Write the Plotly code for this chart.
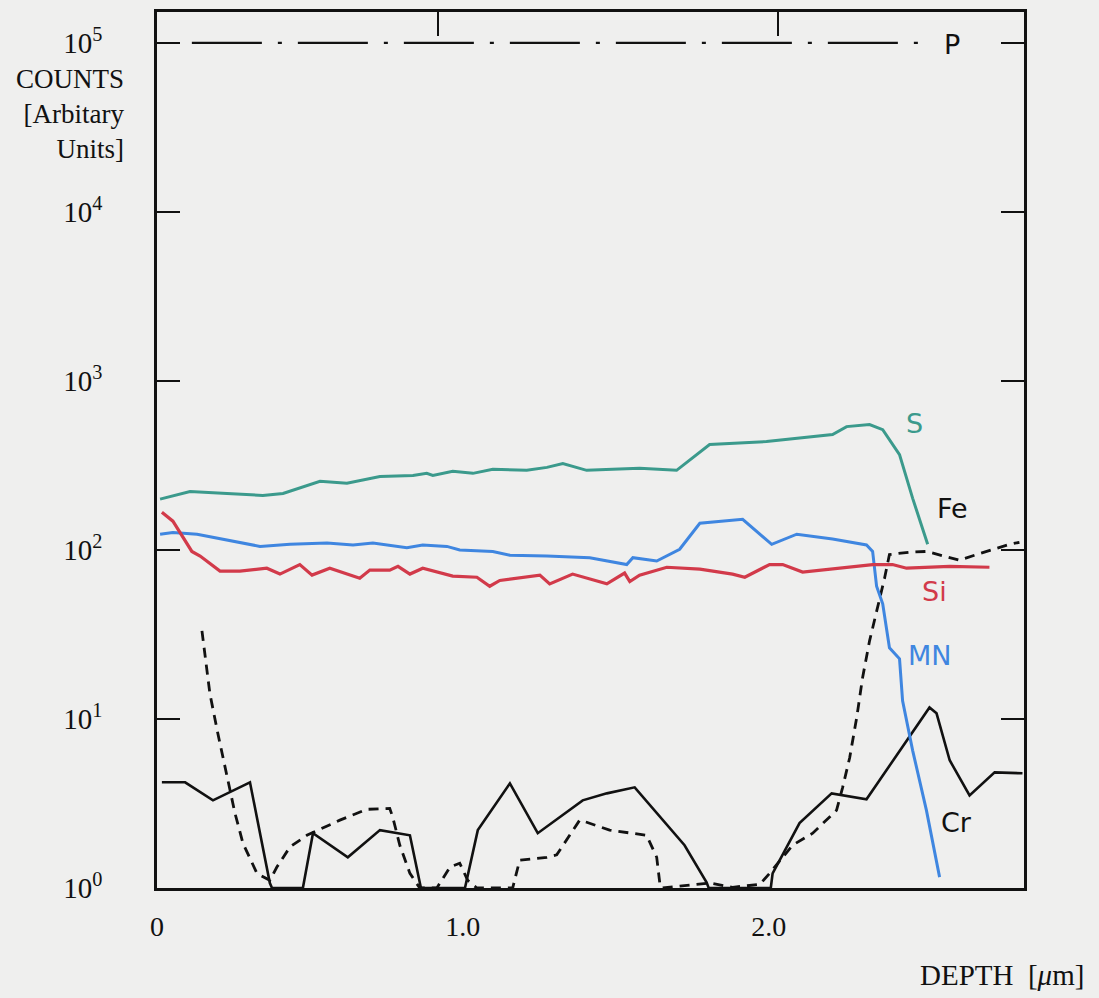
import plotly.graph_objects as go

# ---------------- data (depth in µm, counts) ----------------
s_depth = [0.010, 0.108, 0.229, 0.346, 0.412, 0.510, 0.533, 0.621, 0.729, 0.837, 0.882, 0.902,
           0.967, 1.033, 1.098, 1.209, 1.275, 1.327, 1.405, 1.490, 1.578, 1.699, 1.807, 1.993,
           2.209, 2.255, 2.330, 2.373, 2.428, 2.471, 2.520]
s_counts = [200, 222, 216, 210, 216, 248, 255, 248, 272, 276, 284, 276,
            292, 284, 300, 296, 308, 325, 296, 300, 304, 296, 421, 438,
            482, 537, 552, 515, 367, 202, 108]

mn_depth = [0.010, 0.052, 0.131, 0.239, 0.337, 0.435, 0.556, 0.641, 0.706, 0.817, 0.869, 0.948,
            0.990, 1.098, 1.154, 1.275, 1.415, 1.536, 1.556, 1.634, 1.709, 1.775, 1.915, 2.010,
            2.092, 2.209, 2.320, 2.340, 2.353, 2.373, 2.395, 2.428, 2.438, 2.471, 2.516, 2.559]
mn_counts = [124, 127, 124, 114, 105, 108, 110, 107, 110, 103, 107, 105,
             100, 98, 93, 92, 90, 82, 90, 86, 101, 144, 152, 108,
             124, 116, 107, 98, 61, 48, 26.4, 22.7, 12.8, 6.5, 2.88, 1.16]

si_depth = [0.016, 0.052, 0.114, 0.141, 0.206, 0.271, 0.359, 0.402, 0.467, 0.507, 0.565, 0.663,
            0.696, 0.761, 0.788, 0.827, 0.869, 0.967, 1.046, 1.088, 1.121, 1.252, 1.284, 1.359,
            1.471, 1.529, 1.546, 1.578, 1.667, 1.775, 1.882, 1.922, 2.003, 2.046, 2.111, 2.209,
            2.340, 2.405, 2.451, 2.592, 2.722]
si_counts = [167, 148, 98, 92, 75, 75, 78, 72, 82, 71, 78, 68,
             76, 76, 80, 72, 78, 70, 69, 61, 66, 71, 63, 72,
             63, 73, 65, 71, 79, 77, 72, 69, 82, 82, 74, 77,
             82, 82, 78, 80, 79]

fe_depth = [0.147, 0.173, 0.199, 0.232, 0.255, 0.281, 0.327, 0.369, 0.392, 0.435, 0.490, 0.598,
            0.686, 0.761, 0.771, 0.794, 0.827, 0.859, 0.915, 0.958, 0.990, 1.016, 1.046, 1.163,
            1.186, 1.275, 1.307, 1.382, 1.405, 1.480, 1.601, 1.634, 1.644, 1.650, 1.807, 1.882,
            1.971, 2.003, 2.078, 2.144, 2.222, 2.242, 2.265, 2.288, 2.307, 2.330, 2.356, 2.379,
            2.395, 2.461, 2.516, 2.569, 2.624, 2.680, 2.788, 2.820]
fe_counts = [33.2, 14.1, 8.2, 4.3, 2.77, 1.84, 1.22, 1.11, 1.33, 1.75, 2.05, 2.52,
             2.92, 2.96, 2.62, 1.79, 1.22, 1.0, 1.0, 1.33, 1.40, 1.11, 1.0, 1.0,
             1.46, 1.52, 1.57, 2.52, 2.45, 2.20, 2.05, 1.52, 1.07, 1.0, 1.07, 1.01,
             1.05, 1.22, 1.79, 2.11, 2.88, 3.94, 5.9, 10.2, 17.5, 29, 45, 68,
             94, 97, 98, 92, 87, 94, 108, 111]

cr_depth = [0.016, 0.092, 0.183, 0.304, 0.369, 0.376, 0.477, 0.510, 0.624, 0.729, 0.827, 0.863,
            1.007, 1.049, 1.154, 1.245, 1.392, 1.471, 1.562, 1.725, 1.797, 1.804, 2.007, 2.013,
            2.101, 2.206, 2.320, 2.526, 2.549, 2.592, 2.657, 2.739, 2.830]
cr_counts = [4.22, 4.22, 3.30, 4.22, 1.07, 1.0, 1.0, 2.11, 1.52, 2.20, 2.05, 1.0,
             1.0, 2.20, 4.16, 2.11, 3.30, 3.63, 3.94, 1.79, 1.08, 1.0, 1.0, 1.22,
             2.42, 3.63, 3.35, 11.7, 10.8, 5.7, 3.53, 4.83, 4.77]

p_depth = [0.114, 2.49]
p_counts = [1e5, 1e5]

y_tickvals = [1, 10, 100, 1000, 10000, 100000]
y_ticktext = ["10<sup>0</sup>", "10<sup>1</sup>", "10<sup>2</sup>",
              "10<sup>3</sup>", "10<sup>4</sup>", "10<sup>5</sup>"]
x_tickvals = [0, 1, 2]
x_ticktext = ["0", "1.0", "2.0"]
top_tickvals = [0.92, 2.03]

# element labels: (text, depth, log10 count, colour)
labels = [("S", 2.477, 2.748, "#3b9a8c"),
          ("Fe", 2.600, 2.246, "#111111"),
          ("Si", 2.542, 1.757, "#d23a4a"),
          ("MN", 2.526, 1.374, "#3f86e0"),
          ("Cr", 2.614, 0.389, "#111111"),
          ("P", 2.598, 4.988, "#111111")]

TEAL = "#3b9a8c"
RED = "#d23a4a"
BLUE = "#3f86e0"
BLACK = "#111111"
BG = "#efefee"

fig = go.Figure()
fig.add_trace(go.Scatter(x=p_depth, y=p_counts, mode="lines",
                         line=dict(color=BLACK, width=2.2, dash="70px,16px,4px,16px")))
fig.add_trace(go.Scatter(x=fe_depth, y=fe_counts, mode="lines",
                         line=dict(color=BLACK, width=2.8, dash="10px,7px")))
fig.add_trace(go.Scatter(x=cr_depth, y=cr_counts, mode="lines",
                         line=dict(color=BLACK, width=2.6)))
fig.add_trace(go.Scatter(x=s_depth, y=s_counts, mode="lines",
                         line=dict(color=TEAL, width=3)))
fig.add_trace(go.Scatter(x=mn_depth, y=mn_counts, mode="lines",
                         line=dict(color=BLUE, width=3)))
fig.add_trace(go.Scatter(x=si_depth, y=si_counts, mode="lines",
                         line=dict(color=RED, width=3.2)))
# invisible trace to carry the top axis ticks
fig.add_trace(go.Scatter(x=p_depth, y=p_counts, mode="lines", xaxis="x2",
                         line=dict(width=0), hoverinfo="skip"))

for text, xv, yv, col in labels:
    fig.add_annotation(x=xv, y=yv, xref="x", yref="y", text=text, showarrow=False,
                       font=dict(family="DejaVu Sans", size=27, color=col))

fig.add_annotation(x=-0.035, y=0.884, xref="paper", yref="paper",
                   text="COUNTS<br>[Arbitary<br>Units]", showarrow=False,
                   xanchor="right", yanchor="middle", align="right",
                   font=dict(family="Liberation Serif", size=27, color=BLACK))
fig.add_annotation(x=0.975, y=-0.099, xref="paper", yref="paper",
                   text="DEPTH&nbsp;&nbsp;[<i>μ</i>m]", showarrow=False,
                   xanchor="center", yanchor="middle",
                   font=dict(family="Liberation Serif", size=29, color=BLACK))

fig.update_layout(
    width=1099, height=998,
    margin=dict(l=157, r=75, t=9, b=110),
    paper_bgcolor=BG, plot_bgcolor=BG,
    showlegend=False,
    font=dict(family="Liberation Serif", size=24, color=BLACK),
    xaxis=dict(range=[0, 2.835], tickvals=x_tickvals, ticktext=x_ticktext,
               tickfont=dict(family="Liberation Serif", size=28, color=BLACK),
               showgrid=False, zeroline=False, showline=True, linecolor=BLACK,
               linewidth=2.5, mirror=True, ticks="", ticklabelstandoff=12),
    xaxis2=dict(range=[0, 2.835], overlaying="x", side="top", tickvals=top_tickvals,
                ticks="inside", ticklen=24, tickwidth=2, tickcolor=BLACK,
                showticklabels=False, showgrid=False, zeroline=False, showline=False),
    yaxis=dict(type="log", range=[0, 5.183], tickvals=y_tickvals, ticktext=y_ticktext,
               tickfont=dict(family="Liberation Serif", size=29, color=BLACK),
               showgrid=False, zeroline=False, showline=True, linecolor=BLACK,
               linewidth=2.5, mirror="ticks", ticks="inside", ticklen=23,
               tickwidth=2, tickcolor=BLACK, ticklabelstandoff=46),
)

fig.write_html("out.html")
